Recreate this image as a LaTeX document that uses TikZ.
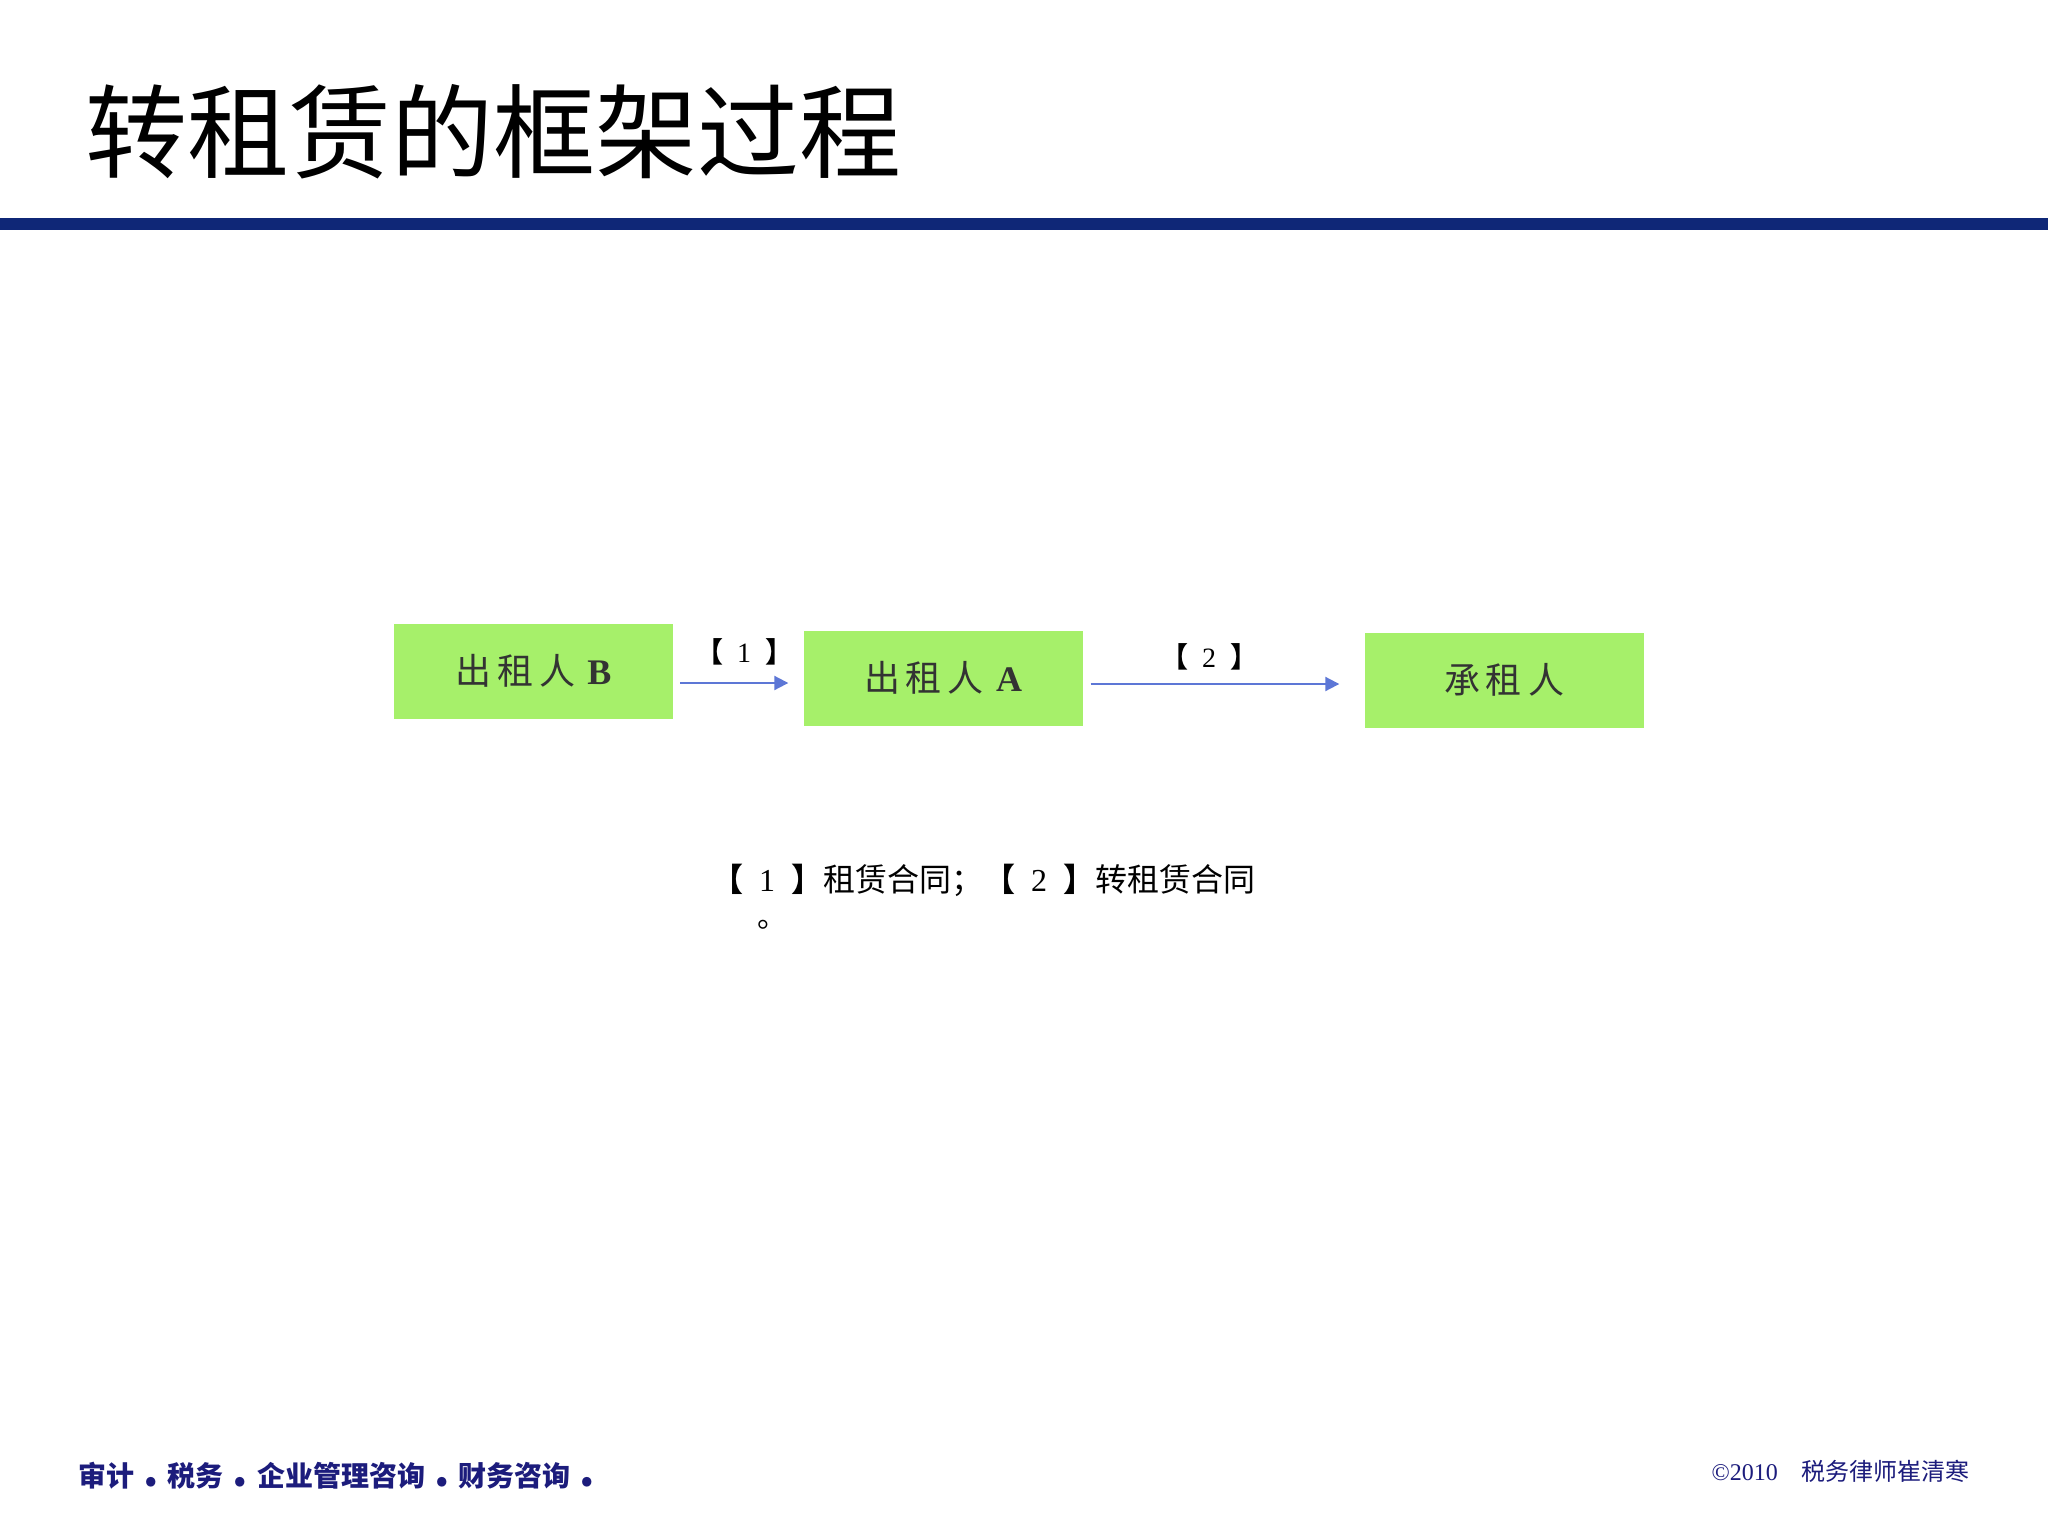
\documentclass[tikz,border=0pt]{standalone}
\usepackage{fontspec}
\setmainfont{Liberation Serif}
\newfontfamily\cjk{Noto Sans CJK SC}
\usetikzlibrary{arrows.meta}
\definecolor{barblue}{HTML}{0F2777}
\definecolor{boxgreen}{HTML}{A6F06A}
\definecolor{arrowblue}{HTML}{5D77D6}
\definecolor{foot}{HTML}{1C1C7C}
\definecolor{boxtext}{HTML}{333333}
\newcommand{\fdot}{\hspace{9pt}{\fontsize{44}{44}\selectfont\bfseries .}\hspace{9pt}}
\begin{document}
\begin{tikzpicture}[x=1pt,y=-1pt,
  party/.style={fill=boxgreen, draw=none, minimum width=279pt, minimum height=95pt, inner sep=0pt, text=boxtext, font=\fontsize{36}{40}\selectfont},
  flow/.style={draw=arrowblue, line width=2pt, -{Triangle[length=14pt,width=14pt]}},
  tag/.style={font=\fontsize{28}{32}\selectfont, inner sep=0pt, text=black}]
\useasboundingbox (0,0) rectangle (2048,1536);
\fill[white] (0,0) rectangle (2048,1536);
\node[anchor=west, font=\cjk\fontsize{102}{110}\selectfont, inner sep=0pt] (title) at (85,132) {转租赁的框架过程};
\node[fill=barblue, minimum width=2048pt, minimum height=12pt, inner sep=0pt, anchor=north west] (bar) at (0,218) {};
\node[party] (B) at (533.5,671) {{\cjk 出\hspace{6pt}租\hspace{6pt}人}\hspace{12pt}\textbf{B}};
\node[party] (A) at (943,678) {{\cjk 出\hspace{6pt}租\hspace{6pt}人}\hspace{12pt}\textbf{A}};
\node[party] (L) at (1504,680) {\cjk 承\hspace{6pt}租\hspace{6pt}人};
\draw[flow] ([shift={(7,12)}]B.east) -- ([shift={(-15,5)}]A.west);
\draw[flow] ([shift={(8,6)}]A.east) -- ([shift={(-25,4)}]L.west);
\node[tag] (t1) at (744,652) {{\cjk\bfseries 【}\enspace1\enspace{\cjk\bfseries 】}};
\node[tag] (t2) at (1209,657) {{\cjk\bfseries 【}\enspace2\enspace{\cjk\bfseries 】}};
\node[anchor=west, font=\fontsize{32}{36}\selectfont, inner sep=0pt] (legend) at (711,880) {{\cjk\bfseries 【}\enspace1\enspace{\cjk\bfseries 】}{\cjk 租赁合同；}{\cjk\bfseries 【}\enspace2\enspace{\cjk\bfseries 】}{\cjk 转租赁合同}};
\node[anchor=base west, font=\cjk\fontsize{30}{34}\selectfont, inner sep=0pt] (stop) at (757,927) {。};
\node[anchor=west, text=foot, font=\cjk\bfseries\fontsize{28}{32}\selectfont, inner sep=0pt] (footl) at (78,1476) {审计\fdot 税务\fdot 企业管理咨询\fdot 财务咨询\fdot};
\node[anchor=east, text=foot, font=\fontsize{24}{28}\selectfont, inner sep=0pt] (footr) at (1970,1471) {©2010\quad{\cjk 税务律师崔清寒}};
\end{tikzpicture}
\end{document}
